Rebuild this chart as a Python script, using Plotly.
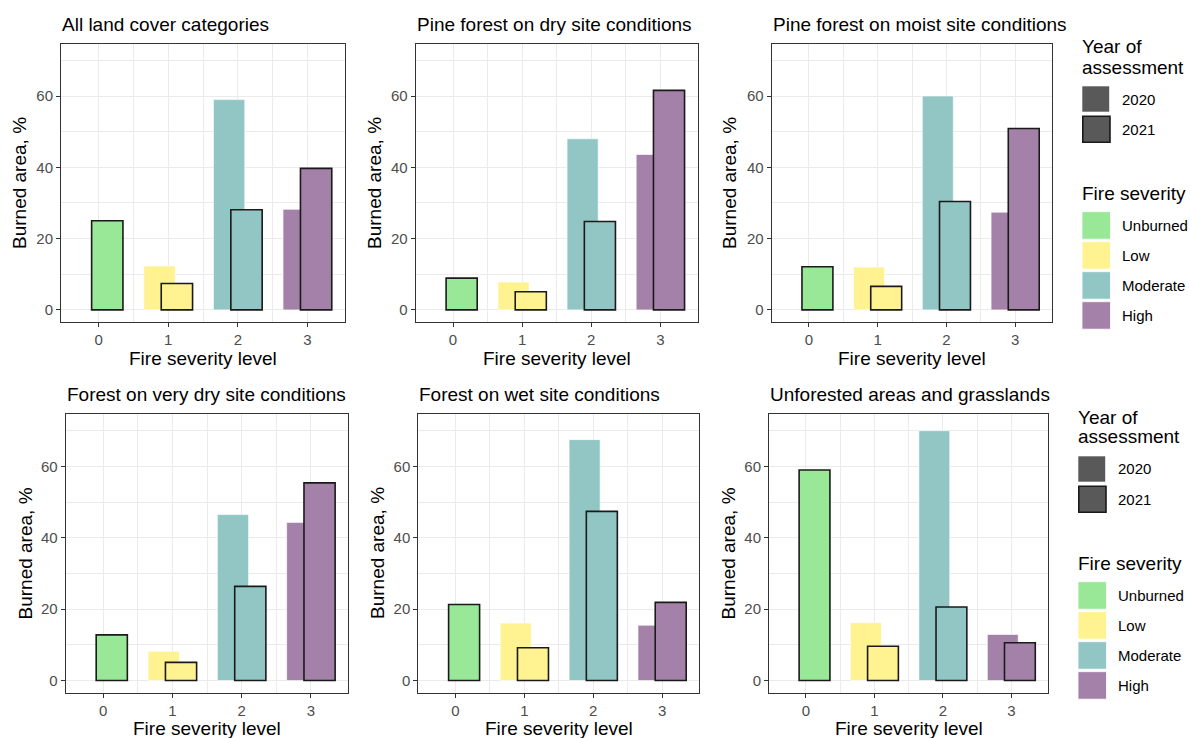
import plotly.graph_objects as go

# ---------------- data ----------------
levels = [0, 1, 2, 3]
severity_labels = ["Unburned", "Low", "Moderate", "High"]
severity_colors = ["#98E898", "#FFF291", "#91C6C4", "#A481A8"]
years = ["2020", "2021"]

panel_titles = [
    "All land cover categories",
    "Pine forest on dry site conditions",
    "Pine forest on moist site conditions",
    "Forest on very dry site conditions",
    "Forest on wet site conditions",
    "Unforested areas and grasslands",
]

all_2020 = [None, 12.3, 59.0, 28.2]
all_2021 = [25.0, 7.4, 28.1, 39.7]
pine_dry_2020 = [None, 7.8, 48.0, 43.6]
pine_dry_2021 = [8.9, 5.1, 24.8, 61.6]
pine_moist_2020 = [None, 12.0, 60.0, 27.4]
pine_moist_2021 = [12.1, 6.6, 30.4, 50.9]
very_dry_2020 = [None, 8.2, 46.5, 44.3]
very_dry_2021 = [12.8, 5.1, 26.4, 55.4]
wet_2020 = [None, 16.1, 67.5, 15.5]
wet_2021 = [21.3, 9.2, 47.4, 21.9]
unforested_2020 = [None, 16.2, 70.0, 12.9]
unforested_2021 = [59.0, 9.6, 20.6, 10.6]

series_2020 = [all_2020, pine_dry_2020, pine_moist_2020, very_dry_2020, wet_2020, unforested_2020]
series_2021 = [all_2021, pine_dry_2021, pine_moist_2021, very_dry_2021, wet_2021, unforested_2021]

x_tick_vals = [0, 1, 2, 3]
y_tick_vals = [0, 20, 40, 60]
y_tick_text = ["0", "20", "40", "60"]

# ---------------- layout geometry (pixels) ----------------
W, H = 1190, 738
# (left, right, top, bottom)
panels_px = [
    (61, 345, 44, 322),
    (415.7, 697.7, 44, 322),
    (771.7, 1052.3, 44, 322),
    (65.7, 348.3, 414.3, 692.7),
    (418.3, 699.3, 414.3, 692.7),
    (769, 1048.3, 414.3, 692.7),
]
ytitle_x_px = [20, 375, 730, 25, 377.5, 728]

FONT = "Liberation Sans, Arial, sans-serif"
TITLE_SIZE = 19
TICK_SIZE = 15

def px_x(p):
    return p / W

def px_y(p):
    return 1 - p / H

fig = go.Figure()

for i in range(6):
    xa = "x" if i == 0 else f"x{i+1}"
    ya = "y" if i == 0 else f"y{i+1}"
    fig.add_trace(go.Bar(
        x=levels, y=series_2020[i], xaxis=xa, yaxis=ya,
        width=0.45, offset=-0.35,
        marker=dict(color=severity_colors, line=dict(color="white", width=0.6)),
        showlegend=False, name="2020",
    ))
    fig.add_trace(go.Bar(
        x=levels, y=series_2021[i], xaxis=xa, yaxis=ya,
        width=0.45, offset=-0.10,
        marker=dict(color=severity_colors, line=dict(color="#1A1A1A", width=1.6)),
        showlegend=False, name="2021",
    ))

layout = dict(
    width=W, height=H,
    margin=dict(l=0, r=0, t=0, b=0),
    paper_bgcolor="white", plot_bgcolor="white",
    barmode="overlay",
    font=dict(family=FONT, color="black"),
)

annotations = []
shapes = []
for i, (l, r, t, b) in enumerate(panels_px):
    sx = "" if i == 0 else str(i + 1)
    layout[f"xaxis{sx}"] = dict(
        domain=[px_x(l), px_x(r)], anchor=f"y{sx}", range=[-0.54, 3.54],
        tickvals=x_tick_vals, ticktext=[str(v) for v in x_tick_vals],
        ticks="outside", ticklen=4, tickwidth=1, tickcolor="#333333",
        tickfont=dict(size=TICK_SIZE, color="#4D4D4D", family=FONT),
        showgrid=True, gridcolor="#EBEBEB", gridwidth=1.3,
        minor=dict(tickvals=[0.5, 1.5, 2.5], showgrid=True, gridcolor="#EBEBEB", gridwidth=1.0, ticks=""),
        showline=True, mirror=True, linecolor="#333333", linewidth=1,
        zeroline=False, fixedrange=True,
    )
    layout[f"yaxis{sx}"] = dict(
        domain=[px_y(b), px_y(t)], anchor=f"x{sx}", range=[-3.4, 74.6],
        tickvals=y_tick_vals, ticktext=y_tick_text,
        ticks="outside", ticklen=4, tickwidth=1, tickcolor="#333333",
        tickfont=dict(size=TICK_SIZE, color="#4D4D4D", family=FONT),
        showgrid=True, gridcolor="#EBEBEB", gridwidth=1.3,
        minor=dict(tickvals=[10, 30, 50, 70], showgrid=True, gridcolor="#EBEBEB", gridwidth=1.0, ticks=""),
        showline=True, mirror=True, linecolor="#333333", linewidth=1,
        zeroline=False, fixedrange=True,
    )
    # panel title
    annotations.append(dict(
        text=panel_titles[i], xref="paper", yref="paper",
        x=px_x(l - 1), y=px_y(t - 19.5), xanchor="left", yanchor="middle",
        showarrow=False, font=dict(size=TITLE_SIZE, color="black", family=FONT),
    ))
    # x title
    annotations.append(dict(
        text="Fire severity level", xref="paper", yref="paper",
        x=px_x((l + r) / 2), y=px_y(b + 36), xanchor="center", yanchor="middle",
        showarrow=False, font=dict(size=TITLE_SIZE, color="black", family=FONT),
    ))
    # y title
    annotations.append(dict(
        text="Burned area, %", xref="paper", yref="paper",
        x=px_x(ytitle_x_px[i]), y=px_y((t + b) / 2), xanchor="center", yanchor="middle",
        textangle=-90, showarrow=False, font=dict(size=TITLE_SIZE, color="black", family=FONT),
    ))

# ---------------- legends (drawn) ----------------
legend_origins = [(1082, 0), (1078, 370)]
for (lx, dy) in legend_origins:
    for j, line in enumerate(["Year of", "assessment"]):
        annotations.append(dict(
            text=line, xref="paper", yref="paper",
            x=px_x(lx - 2), y=px_y(47 + 20 * j + dy), xanchor="left", yanchor="middle",
            showarrow=False, font=dict(size=TITLE_SIZE, color="black", family=FONT),
        ))
    # year keys
    key_y = [(86, 112), (115.5, 143)]
    for k, yr in enumerate(years):
        y0, y1 = key_y[k]
        if k == 0:
            shapes.append(dict(type="rect", xref="paper", yref="paper",
                               x0=px_x(lx), x1=px_x(lx + 27.5), y0=px_y(y1 + dy), y1=px_y(y0 + dy),
                               fillcolor="#595959", line=dict(color="white", width=0.6)))
        else:
            shapes.append(dict(type="rect", xref="paper", yref="paper",
                               x0=px_x(lx + 0.8), x1=px_x(lx + 28), y0=px_y(y1 + dy - 0.8), y1=px_y(y0 + dy + 0.8),
                               fillcolor="#595959", line=dict(color="#1A1A1A", width=1.6)))
        annotations.append(dict(
            text=yr, xref="paper", yref="paper",
            x=px_x(lx + 38), y=px_y((y0 + y1) / 2 + dy), xanchor="left", yanchor="middle",
            showarrow=False, font=dict(size=TICK_SIZE, color="black", family=FONT),
        ))
    annotations.append(dict(
        text="Fire severity", xref="paper", yref="paper",
        x=px_x(lx - 2), y=px_y(193 + dy), xanchor="left", yanchor="middle",
        showarrow=False, font=dict(size=TITLE_SIZE, color="black", family=FONT),
    ))
    for k, lab in enumerate(severity_labels):
        y0 = 211.7 + 30 * k
        shapes.append(dict(type="rect", xref="paper", yref="paper",
                           x0=px_x(lx), x1=px_x(lx + 28.5), y0=px_y(y0 + 27.5 + dy), y1=px_y(y0 + dy),
                           fillcolor=severity_colors[k], line=dict(color="white", width=0.8)))
        annotations.append(dict(
            text=lab, xref="paper", yref="paper",
            x=px_x(lx + 38), y=px_y(y0 + 14 + dy), xanchor="left", yanchor="middle",
            showarrow=False, font=dict(size=TICK_SIZE, color="black", family=FONT),
        ))

layout["annotations"] = annotations
layout["shapes"] = shapes
fig.update_layout(**layout)

fig.write_html(
    "out.html",
    config={"displayModeBar": False},
    post_script="document.body.style.margin='0px';document.body.style.overflow='hidden';",
)
